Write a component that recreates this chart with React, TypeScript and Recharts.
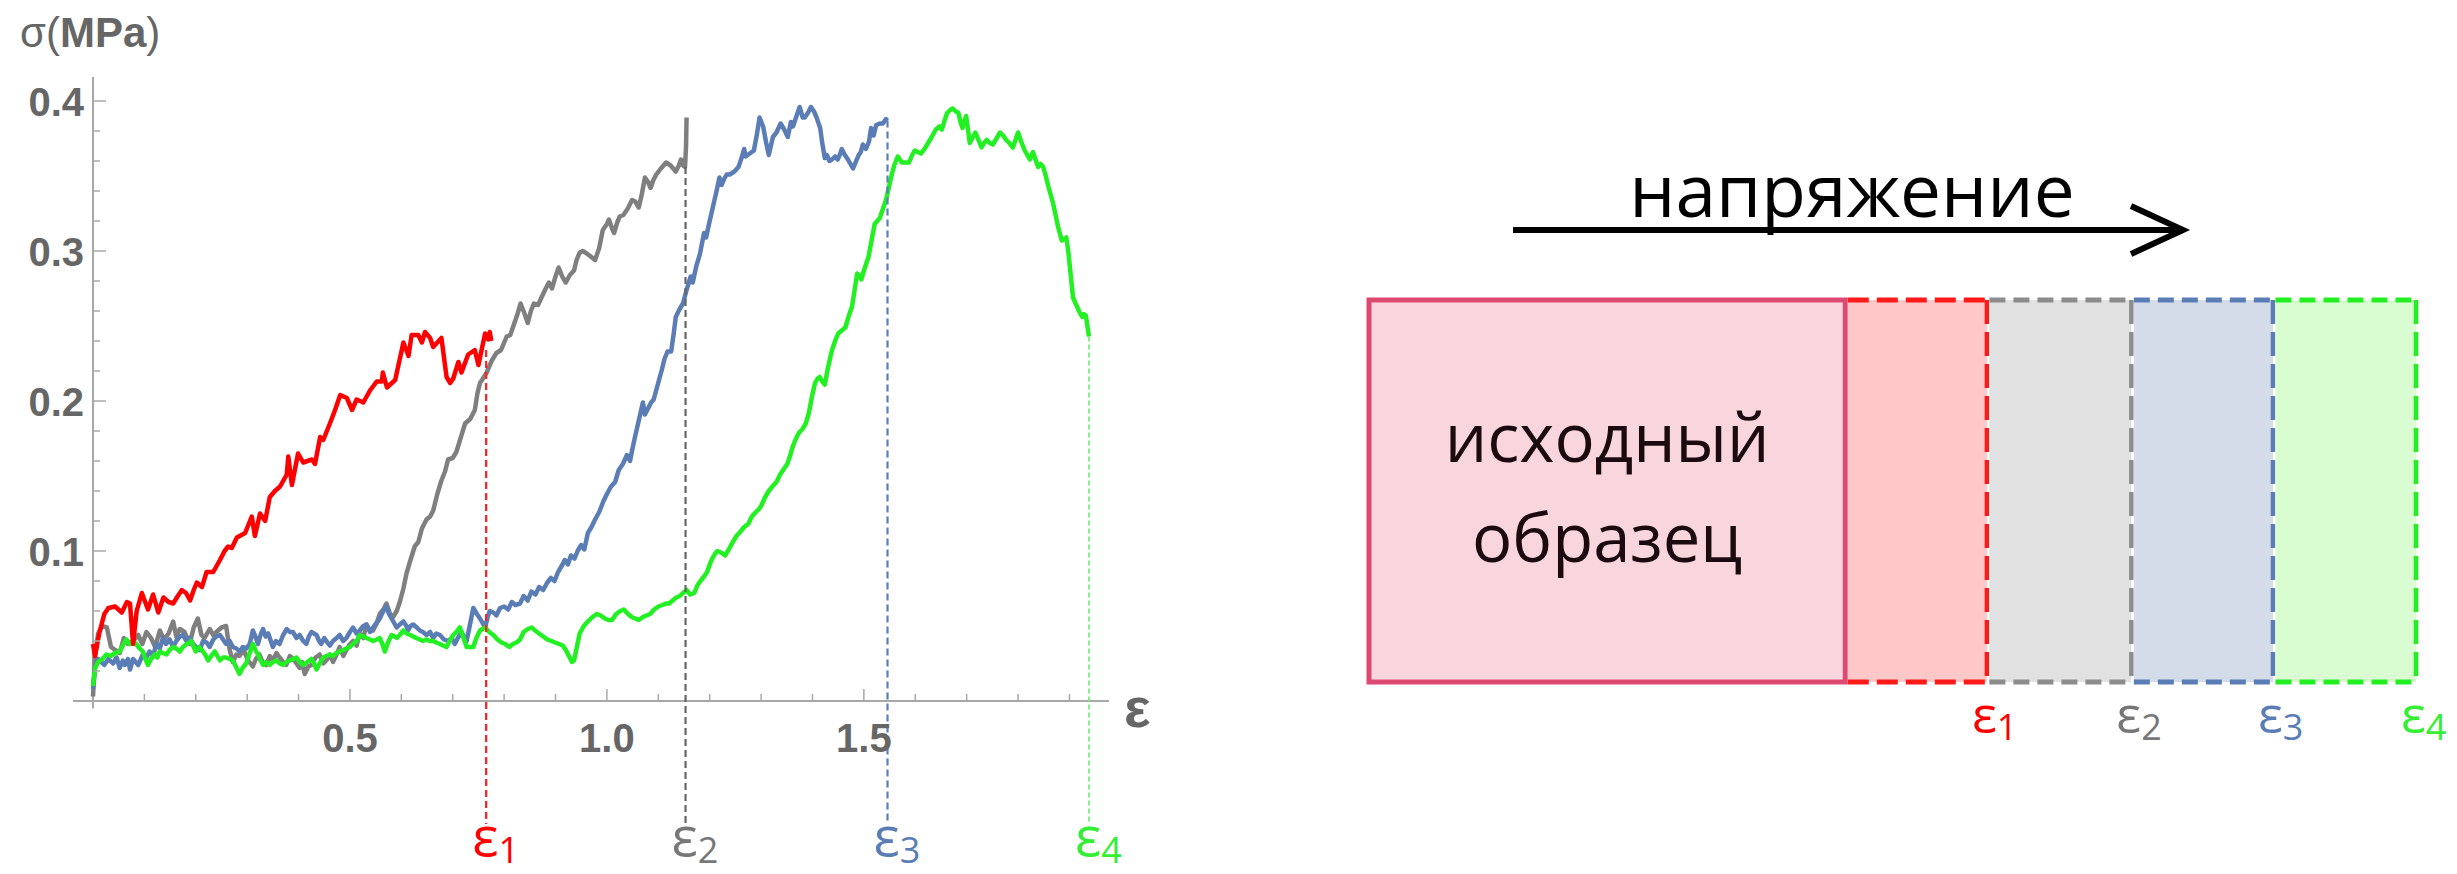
import React from "react";
import {
  Bar,
  BarChart,
  Line,
  LineChart,
  ReferenceDot,
  ReferenceLine,
  XAxis,
  YAxis,
} from "recharts";

// stress–strain curves, [strain, stress MPa]
const RED_CURVE: [number, number][] = [
  [0, 0.038], [0.004, 0.03], [0.012, 0.045], [0.022, 0.058], [0.03, 0.062], [0.043, 0.063], [0.056, 0.059],
  [0.066, 0.066], [0.072, 0.065], [0.078, 0.038], [0.085, 0.06], [0.095, 0.072], [0.107, 0.061], [0.117, 0.071],
  [0.127, 0.059], [0.137, 0.069], [0.147, 0.066], [0.156, 0.065], [0.165, 0.07], [0.173, 0.074], [0.181, 0.072],
  [0.189, 0.067], [0.196, 0.074], [0.202, 0.079], [0.212, 0.076], [0.221, 0.086], [0.234, 0.086], [0.247, 0.094],
  [0.256, 0.1], [0.263, 0.103], [0.27, 0.102], [0.28, 0.109], [0.296, 0.112], [0.309, 0.123], [0.315, 0.11],
  [0.325, 0.125], [0.335, 0.12], [0.344, 0.136], [0.354, 0.14], [0.364, 0.143], [0.377, 0.151], [0.38, 0.163],
  [0.387, 0.144], [0.399, 0.165], [0.409, 0.159], [0.426, 0.161], [0.432, 0.158], [0.442, 0.176], [0.448, 0.174],
  [0.461, 0.185], [0.471, 0.194], [0.481, 0.204], [0.494, 0.202], [0.504, 0.194], [0.513, 0.201], [0.526, 0.199],
  [0.539, 0.207], [0.552, 0.213], [0.562, 0.213], [0.564, 0.219], [0.572, 0.209], [0.588, 0.214], [0.604, 0.239],
  [0.614, 0.23], [0.62, 0.244], [0.633, 0.244], [0.64, 0.239], [0.646, 0.246], [0.656, 0.242], [0.662, 0.236],
  [0.678, 0.242], [0.688, 0.216], [0.695, 0.212], [0.701, 0.215], [0.711, 0.226], [0.717, 0.219], [0.73, 0.231],
  [0.743, 0.234], [0.75, 0.224], [0.763, 0.245], [0.769, 0.241], [0.772, 0.246], [0.775, 0.24],
];

const GRAY_CURVE: [number, number][] = [
  [0, 0.003], [0.004, 0.03], [0.01, 0.045], [0.018, 0.05], [0.027, 0.049], [0.035, 0.036], [0.043, 0.034],
  [0.052, 0.032], [0.06, 0.042], [0.068, 0.038], [0.078, 0.04], [0.088, 0.044], [0.096, 0.038], [0.104, 0.046],
  [0.113, 0.042], [0.121, 0.036], [0.13, 0.047], [0.138, 0.041], [0.147, 0.045], [0.156, 0.053], [0.162, 0.043],
  [0.169, 0.048], [0.178, 0.046], [0.188, 0.038], [0.196, 0.049], [0.204, 0.055], [0.211, 0.044], [0.217, 0.042],
  [0.227, 0.048], [0.234, 0.044], [0.24, 0.046], [0.25, 0.049], [0.259, 0.05], [0.266, 0.034], [0.272, 0.026],
  [0.279, 0.031], [0.285, 0.03], [0.293, 0.034], [0.302, 0.027], [0.311, 0.023], [0.317, 0.028], [0.324, 0.031],
  [0.33, 0.026], [0.337, 0.024], [0.344, 0.03], [0.35, 0.027], [0.357, 0.032], [0.363, 0.029], [0.37, 0.026],
  [0.376, 0.024], [0.383, 0.03], [0.39, 0.028], [0.396, 0.025], [0.402, 0.022], [0.407, 0.026], [0.412, 0.018],
  [0.419, 0.023], [0.425, 0.024], [0.433, 0.029], [0.441, 0.031], [0.448, 0.025], [0.454, 0.027], [0.461, 0.031],
  [0.467, 0.026], [0.474, 0.031], [0.48, 0.036], [0.487, 0.03], [0.493, 0.034], [0.5, 0.038], [0.506, 0.04],
  [0.513, 0.037], [0.519, 0.045], [0.526, 0.042], [0.532, 0.051], [0.539, 0.047], [0.545, 0.047], [0.552, 0.052],
  [0.558, 0.058], [0.565, 0.061], [0.571, 0.065], [0.578, 0.058], [0.584, 0.056], [0.591, 0.06], [0.597, 0.066],
  [0.604, 0.075], [0.61, 0.085], [0.616, 0.092], [0.626, 0.103], [0.633, 0.106], [0.64, 0.115], [0.649, 0.121],
  [0.656, 0.123], [0.662, 0.127], [0.67, 0.138], [0.678, 0.147], [0.685, 0.153], [0.691, 0.161], [0.7, 0.162],
  [0.707, 0.166], [0.716, 0.176], [0.724, 0.185], [0.734, 0.188], [0.743, 0.194], [0.748, 0.205], [0.753, 0.212],
  [0.757, 0.214], [0.766, 0.219], [0.776, 0.227], [0.785, 0.232], [0.794, 0.234], [0.805, 0.243], [0.812, 0.244],
  [0.82, 0.252], [0.826, 0.258], [0.832, 0.265], [0.84, 0.258], [0.846, 0.252], [0.852, 0.26], [0.858, 0.265],
  [0.866, 0.264], [0.874, 0.27], [0.881, 0.275], [0.887, 0.279], [0.893, 0.275], [0.9, 0.283], [0.906, 0.289],
  [0.913, 0.283], [0.92, 0.279], [0.928, 0.284], [0.936, 0.287], [0.941, 0.294], [0.947, 0.299], [0.953, 0.3],
  [0.958, 0.299], [0.966, 0.297], [0.977, 0.294], [0.985, 0.302], [0.992, 0.314], [1.0, 0.318], [1.004, 0.321],
  [1.01, 0.315], [1.014, 0.312], [1.02, 0.319], [1.025, 0.323], [1.032, 0.324], [1.04, 0.328], [1.049, 0.334],
  [1.055, 0.333], [1.062, 0.329], [1.068, 0.338], [1.074, 0.349], [1.08, 0.346], [1.085, 0.342], [1.09, 0.347],
  [1.096, 0.351], [1.105, 0.355], [1.115, 0.359], [1.124, 0.357], [1.134, 0.353], [1.14, 0.357], [1.144, 0.361],
  [1.148, 0.357], [1.152, 0.356], [1.154, 0.37], [1.155, 0.389],
];

const BLUE_CURVE: [number, number][] = [
  [0, 0.008], [0.004, 0.022], [0.01, 0.028], [0.016, 0.026], [0.022, 0.024], [0.03, 0.028], [0.039, 0.025],
  [0.046, 0.029], [0.052, 0.022], [0.058, 0.027], [0.062, 0.024], [0.068, 0.028], [0.072, 0.021], [0.078, 0.028],
  [0.083, 0.026], [0.088, 0.024], [0.097, 0.031], [0.104, 0.029], [0.11, 0.033], [0.117, 0.03], [0.123, 0.038],
  [0.13, 0.035], [0.136, 0.042], [0.142, 0.038], [0.149, 0.041], [0.156, 0.036], [0.162, 0.04], [0.169, 0.043],
  [0.175, 0.044], [0.182, 0.04], [0.188, 0.042], [0.195, 0.038], [0.201, 0.036], [0.208, 0.034], [0.214, 0.04],
  [0.221, 0.039], [0.227, 0.036], [0.234, 0.041], [0.24, 0.043], [0.247, 0.044], [0.253, 0.041], [0.259, 0.038],
  [0.266, 0.04], [0.272, 0.036], [0.279, 0.035], [0.285, 0.033], [0.292, 0.036], [0.298, 0.035], [0.305, 0.038],
  [0.311, 0.047], [0.316, 0.043], [0.321, 0.038], [0.326, 0.044], [0.331, 0.048], [0.336, 0.043], [0.341, 0.045],
  [0.346, 0.04], [0.35, 0.036], [0.356, 0.04], [0.363, 0.038], [0.37, 0.044], [0.377, 0.048], [0.383, 0.046],
  [0.389, 0.046], [0.396, 0.042], [0.402, 0.044], [0.409, 0.04], [0.415, 0.038], [0.42, 0.043], [0.425, 0.046],
  [0.43, 0.045], [0.435, 0.044], [0.44, 0.04], [0.444, 0.038], [0.45, 0.042], [0.456, 0.039], [0.461, 0.037],
  [0.467, 0.04], [0.474, 0.042], [0.48, 0.044], [0.487, 0.04], [0.493, 0.042], [0.5, 0.046], [0.506, 0.049],
  [0.513, 0.045], [0.519, 0.047], [0.526, 0.05], [0.532, 0.051], [0.539, 0.046], [0.545, 0.049], [0.552, 0.052],
  [0.558, 0.055], [0.565, 0.06], [0.571, 0.063], [0.576, 0.058], [0.581, 0.055], [0.586, 0.052], [0.591, 0.049],
  [0.597, 0.051], [0.604, 0.053], [0.61, 0.05], [0.613, 0.047], [0.618, 0.05], [0.623, 0.051], [0.63, 0.049],
  [0.636, 0.047], [0.642, 0.046], [0.649, 0.044], [0.656, 0.046], [0.662, 0.042], [0.668, 0.045], [0.675, 0.044],
  [0.683, 0.041], [0.691, 0.04], [0.698, 0.042], [0.704, 0.038], [0.71, 0.042], [0.717, 0.046], [0.722, 0.043],
  [0.727, 0.04], [0.733, 0.05], [0.74, 0.062], [0.747, 0.058], [0.753, 0.055], [0.758, 0.052], [0.763, 0.049],
  [0.768, 0.056], [0.772, 0.06], [0.779, 0.059], [0.785, 0.057], [0.792, 0.062], [0.8, 0.063], [0.808, 0.061],
  [0.815, 0.066], [0.822, 0.064], [0.831, 0.065], [0.838, 0.07], [0.846, 0.067], [0.853, 0.073], [0.861, 0.071],
  [0.868, 0.076], [0.876, 0.074], [0.884, 0.079], [0.891, 0.082], [0.898, 0.08], [0.905, 0.086], [0.912, 0.09],
  [0.918, 0.094], [0.924, 0.091], [0.93, 0.097], [0.937, 0.095], [0.943, 0.1], [0.95, 0.104], [0.956, 0.101],
  [0.963, 0.112], [0.97, 0.116], [0.977, 0.121], [0.985, 0.126], [0.993, 0.133], [1.0, 0.138], [1.008, 0.143],
  [1.016, 0.146], [1.023, 0.154], [1.031, 0.158], [1.039, 0.164], [1.045, 0.16], [1.049, 0.167], [1.054, 0.175],
  [1.058, 0.181], [1.064, 0.19], [1.07, 0.199], [1.074, 0.191], [1.08, 0.195], [1.086, 0.199], [1.091, 0.201],
  [1.099, 0.211], [1.107, 0.221], [1.112, 0.228], [1.118, 0.233], [1.125, 0.233], [1.13, 0.245], [1.134, 0.256],
  [1.141, 0.261], [1.148, 0.265], [1.155, 0.274], [1.163, 0.283], [1.167, 0.279], [1.174, 0.29], [1.181, 0.298],
  [1.189, 0.312], [1.193, 0.309], [1.2, 0.32], [1.208, 0.332], [1.214, 0.341], [1.219, 0.349], [1.223, 0.344],
  [1.228, 0.348], [1.233, 0.351], [1.239, 0.351], [1.248, 0.353], [1.256, 0.356], [1.262, 0.362], [1.267, 0.368],
  [1.27, 0.363], [1.278, 0.365], [1.286, 0.367], [1.292, 0.378], [1.297, 0.389], [1.304, 0.383], [1.31, 0.372],
  [1.315, 0.364], [1.319, 0.37], [1.323, 0.376], [1.33, 0.379], [1.334, 0.382], [1.338, 0.385], [1.345, 0.381],
  [1.352, 0.376], [1.358, 0.386], [1.362, 0.383], [1.368, 0.389], [1.375, 0.396], [1.381, 0.389], [1.385, 0.389],
  [1.391, 0.392], [1.397, 0.396], [1.403, 0.393], [1.408, 0.389], [1.415, 0.382], [1.419, 0.372], [1.424, 0.362],
  [1.428, 0.364], [1.433, 0.36], [1.438, 0.361], [1.444, 0.363], [1.449, 0.361], [1.453, 0.364], [1.457, 0.368],
  [1.463, 0.364], [1.469, 0.361], [1.474, 0.358], [1.479, 0.355], [1.485, 0.36], [1.49, 0.364], [1.494, 0.366],
  [1.498, 0.371], [1.504, 0.368], [1.51, 0.373], [1.514, 0.382], [1.519, 0.377], [1.524, 0.384], [1.531, 0.385],
  [1.537, 0.385], [1.543, 0.388], [1.546, 0.387],
];

const GREEN_CURVE: [number, number][] = [
  [0, 0.01], [0.004, 0.022], [0.01, 0.026], [0.018, 0.028], [0.026, 0.031], [0.034, 0.03], [0.043, 0.032],
  [0.052, 0.033], [0.058, 0.037], [0.065, 0.041], [0.072, 0.038], [0.078, 0.04], [0.084, 0.038], [0.091, 0.035],
  [0.097, 0.033], [0.102, 0.028], [0.107, 0.024], [0.113, 0.028], [0.12, 0.031], [0.125, 0.029], [0.13, 0.033],
  [0.136, 0.032], [0.143, 0.031], [0.149, 0.034], [0.156, 0.036], [0.162, 0.035], [0.169, 0.033], [0.175, 0.036],
  [0.182, 0.038], [0.188, 0.039], [0.191, 0.04], [0.196, 0.036], [0.2, 0.033], [0.206, 0.036], [0.212, 0.034],
  [0.218, 0.031], [0.224, 0.027], [0.23, 0.03], [0.237, 0.033], [0.242, 0.03], [0.247, 0.027], [0.253, 0.029],
  [0.259, 0.029], [0.266, 0.028], [0.272, 0.027], [0.278, 0.023], [0.285, 0.018], [0.291, 0.022], [0.298, 0.025],
  [0.304, 0.031], [0.311, 0.038], [0.316, 0.034], [0.321, 0.031], [0.326, 0.027], [0.331, 0.024], [0.337, 0.026],
  [0.344, 0.024], [0.35, 0.026], [0.357, 0.027], [0.363, 0.025], [0.37, 0.024], [0.376, 0.026], [0.383, 0.027],
  [0.39, 0.028], [0.396, 0.029], [0.402, 0.026], [0.409, 0.024], [0.417, 0.026], [0.425, 0.028], [0.43, 0.025],
  [0.435, 0.021], [0.441, 0.025], [0.448, 0.029], [0.454, 0.03], [0.461, 0.031], [0.467, 0.03], [0.474, 0.032],
  [0.48, 0.033], [0.487, 0.034], [0.493, 0.035], [0.5, 0.036], [0.506, 0.038], [0.513, 0.04], [0.519, 0.044],
  [0.526, 0.043], [0.532, 0.042], [0.539, 0.041], [0.545, 0.04], [0.552, 0.041], [0.558, 0.042], [0.563, 0.038],
  [0.568, 0.033], [0.574, 0.039], [0.581, 0.044], [0.587, 0.043], [0.591, 0.042], [0.597, 0.044], [0.604, 0.047],
  [0.61, 0.045], [0.617, 0.044], [0.623, 0.043], [0.629, 0.042], [0.636, 0.041], [0.642, 0.04], [0.649, 0.041],
  [0.655, 0.04], [0.662, 0.04], [0.668, 0.039], [0.675, 0.038], [0.681, 0.037], [0.688, 0.036], [0.694, 0.04],
  [0.701, 0.044], [0.707, 0.046], [0.714, 0.049], [0.72, 0.043], [0.727, 0.036], [0.733, 0.036], [0.74, 0.036],
  [0.746, 0.042], [0.753, 0.047], [0.758, 0.048], [0.763, 0.049], [0.771, 0.046], [0.779, 0.044], [0.787, 0.041],
  [0.795, 0.039], [0.802, 0.038], [0.81, 0.036], [0.817, 0.038], [0.824, 0.039], [0.831, 0.041], [0.838, 0.046],
  [0.846, 0.048], [0.854, 0.049], [0.86, 0.047], [0.868, 0.045], [0.876, 0.043], [0.884, 0.041], [0.892, 0.04],
  [0.899, 0.039], [0.907, 0.038], [0.914, 0.037], [0.92, 0.034], [0.926, 0.03], [0.932, 0.026], [0.936, 0.027],
  [0.941, 0.035], [0.947, 0.045], [0.955, 0.05], [0.963, 0.053], [0.972, 0.056], [0.98, 0.058], [0.988, 0.057],
  [0.996, 0.055], [1.003, 0.054], [1.01, 0.054], [1.018, 0.058], [1.026, 0.06], [1.033, 0.061], [1.041, 0.058],
  [1.048, 0.056], [1.055, 0.055], [1.062, 0.054], [1.07, 0.056], [1.077, 0.057], [1.084, 0.058], [1.092, 0.061],
  [1.1, 0.063], [1.108, 0.064], [1.115, 0.065], [1.121, 0.065], [1.128, 0.067], [1.135, 0.069], [1.142, 0.07],
  [1.148, 0.072], [1.155, 0.074], [1.162, 0.071], [1.17, 0.072], [1.176, 0.077], [1.182, 0.08], [1.189, 0.083],
  [1.195, 0.086], [1.2, 0.091], [1.205, 0.095], [1.21, 0.098], [1.215, 0.1], [1.222, 0.099], [1.23, 0.097],
  [1.237, 0.101], [1.245, 0.106], [1.252, 0.11], [1.26, 0.113], [1.267, 0.116], [1.275, 0.118], [1.282, 0.123],
  [1.29, 0.126], [1.296, 0.128], [1.3, 0.13], [1.308, 0.136], [1.315, 0.14], [1.322, 0.143], [1.33, 0.146],
  [1.337, 0.151], [1.345, 0.155], [1.351, 0.158], [1.356, 0.163], [1.362, 0.17], [1.368, 0.175], [1.374, 0.179],
  [1.38, 0.181], [1.387, 0.185], [1.393, 0.192], [1.399, 0.203], [1.405, 0.212], [1.41, 0.215], [1.414, 0.216],
  [1.419, 0.213], [1.424, 0.211], [1.43, 0.222], [1.438, 0.234], [1.444, 0.24], [1.45, 0.245], [1.457, 0.247],
  [1.464, 0.249], [1.47, 0.256], [1.477, 0.263], [1.482, 0.274], [1.487, 0.285], [1.491, 0.284], [1.495, 0.281],
  [1.502, 0.289], [1.509, 0.296], [1.515, 0.307], [1.521, 0.318], [1.526, 0.32], [1.531, 0.322], [1.537, 0.328],
  [1.543, 0.334], [1.549, 0.343], [1.555, 0.352], [1.56, 0.358], [1.566, 0.363], [1.57, 0.361], [1.574, 0.359],
  [1.581, 0.359], [1.588, 0.359], [1.594, 0.364], [1.599, 0.367], [1.605, 0.366], [1.611, 0.365], [1.618, 0.368],
  [1.625, 0.372], [1.632, 0.376], [1.64, 0.381], [1.647, 0.383], [1.652, 0.381], [1.657, 0.387], [1.662, 0.392],
  [1.668, 0.394], [1.673, 0.395], [1.679, 0.393], [1.684, 0.392], [1.688, 0.386], [1.692, 0.382], [1.696, 0.387],
  [1.699, 0.39], [1.703, 0.38], [1.706, 0.372], [1.712, 0.376], [1.717, 0.379], [1.723, 0.374], [1.729, 0.369],
  [1.734, 0.372], [1.739, 0.374], [1.745, 0.372], [1.751, 0.371], [1.758, 0.375], [1.765, 0.379], [1.771, 0.377],
  [1.777, 0.374], [1.783, 0.372], [1.79, 0.369], [1.795, 0.374], [1.8, 0.379], [1.806, 0.373], [1.813, 0.367],
  [1.818, 0.364], [1.823, 0.361], [1.829, 0.366], [1.834, 0.361], [1.839, 0.356], [1.844, 0.358], [1.849, 0.356],
  [1.854, 0.35], [1.859, 0.343], [1.864, 0.337], [1.868, 0.332], [1.873, 0.324], [1.878, 0.316], [1.882, 0.311],
  [1.885, 0.307], [1.89, 0.308], [1.894, 0.309], [1.898, 0.299], [1.901, 0.289], [1.904, 0.279], [1.907, 0.269],
  [1.912, 0.265], [1.916, 0.262], [1.92, 0.259], [1.925, 0.256], [1.928, 0.258], [1.932, 0.257], [1.935, 0.25],
  [1.938, 0.243],
];

// strain where each test stopped, and the stress there
const EPS_STRAIN = [0.765, 1.153, 1.546, 1.938];
const EPS_STRESS = [0.234, 0.356, 0.387, 0.243];
const EPS_INDEX = ["1", "2", "3", "4"];

const X_TICKS = [0.1, 0.2, 0.3, 0.4, 0.5, 0.6, 0.7, 0.8, 0.9, 1.0, 1.1, 1.2, 1.3, 1.4, 1.5, 1.6, 1.7, 1.8, 1.9];
const X_LABELS = ["0.5", "1.0", "1.5"];
const Y_TICKS = [
  0.02, 0.04, 0.06, 0.08, 0.1, 0.12, 0.14, 0.16, 0.18, 0.2,
  0.22, 0.24, 0.26, 0.28, 0.3, 0.32, 0.34, 0.36, 0.38, 0.4,
];
const Y_LABELS = ["0.1", "0.2", "0.3", "0.4"];

// sample schematic: original length, then the extra stretch of each test
const STAGE_KEYS = ["s0", "s1", "s2", "s3", "s4"];
const STAGE_LENGTHS = [3.33, 0.99, 1.01, 0.99, 1.0];
const SAMPLE_LINES = ["исходный", "образец"];
const DIRECTION_LABEL = "напряжение";

const CURVE_COLORS = ["#7f7f7f", "#5b7db6", "#22f022", "#ff0000"];
const EPS_COLORS = ["#ff0000", "#777777", "#5b7db6", "#33ee33"];
const DROP_COLORS = ["#ff2020", "#666666", "#5b7db6", "#66ee66"];
const STAGE_FILLS = ["#f9d6de", "#ffc8c8", "#e1e1e1", "#d4dcea", "#d9fcd1"];
const STAGE_STROKES = ["#dc4a73", "#ff1a1a", "#8c8c8c", "#5b7db6", "#22ee22"];

const AXIS = "#a8a8a8";
const TICK_TEXT = "#666666";
const SANS = "'Liberation Sans', Arial, sans-serif";
const OPEN = "'Open Sans', sans-serif";

const toPoints = (pts: [number, number][]) => pts.map(([x, y]) => ({ x, y }));
const CURVES = [GRAY_CURVE, BLUE_CURVE, GREEN_CURVE, RED_CURVE].map(toPoints);

const sampleRow: Record<string, string | number> = { name: "sample" };
STAGE_KEYS.forEach((k, i) => {
  sampleRow[k] = STAGE_LENGTHS[i];
});
const SAMPLE_DATA = [sampleRow];

function StrainTick({ x, y, payload }: any) {
  const v: number = payload.value;
  const label = X_LABELS.find((l) => Math.abs(parseFloat(l) - v) < 1e-6);
  return (
    <g>
      <line x1={x} x2={x} y1={y} y2={y - (label ? 12 : 7)} stroke={AXIS} strokeWidth={1.5} />
      {label && (
        <text x={x} y={y + 51} textAnchor="middle" fill={TICK_TEXT} fontFamily={SANS} fontWeight="bold" fontSize={40}>
          {label}
        </text>
      )}
    </g>
  );
}

function StressTick({ x, y, payload }: any) {
  const v: number = payload.value;
  const label = Y_LABELS.find((l) => Math.abs(parseFloat(l) - v) < 1e-6);
  return (
    <g>
      <line x1={x} x2={x + (label ? 13 : 7)} y1={y} y2={y} stroke={AXIS} strokeWidth={1.5} />
      {label && (
        <text x={x - 9} y={y + 14.5} textAnchor="end" fill={TICK_TEXT} fontFamily={SANS} fontWeight="bold" fontSize={40}>
          {label}
        </text>
      )}
    </g>
  );
}

function EpsText({ x, y, color, sub, size, subSize, shift }: any) {
  return (
    <text x={x - 14} y={y} fill={color} fontFamily={OPEN} fontSize={size}>
      ε
      <tspan fontSize={subSize} dy={shift}>
        {sub}
      </tspan>
    </text>
  );
}

function StressStrainChart() {
  return (
    <LineChart width={1240} height={874} margin={{ top: 77, right: 131, bottom: 143, left: 33 }}>
      <XAxis
        type="number"
        dataKey="x"
        domain={[0, 1.977]}
        ticks={X_TICKS}
        interval={0}
        height={30}
        tickSize={0}
        tickMargin={0}
        axisLine={false}
        tickLine={false}
        tick={(p: any) => <StrainTick {...p} />}
      />
      <YAxis
        type="number"
        dataKey="y"
        domain={[0, 0.416]}
        ticks={Y_TICKS}
        interval={0}
        width={60}
        tickSize={0}
        tickMargin={0}
        axisLine={false}
        tickLine={false}
        tick={(p: any) => <StressTick {...p} />}
      />
      <ReferenceLine segment={[{ x: -0.039, y: 0 }, { x: 1.977, y: 0 }]} stroke={AXIS} strokeWidth={2} ifOverflow="visible" />
      <ReferenceLine segment={[{ x: 0, y: -0.005 }, { x: 0, y: 0.416 }]} stroke={AXIS} strokeWidth={2} ifOverflow="visible" />

      {CURVES.map((pts, i) => (
        <Line
          key={i}
          data={pts}
          dataKey="y"
          type="linear"
          stroke={CURVE_COLORS[i]}
          strokeWidth={4.5}
          strokeLinejoin="round"
          dot={false}
          activeDot={false}
          isAnimationActive={false}
        />
      ))}

      {EPS_STRAIN.map((e, i) => (
        <ReferenceLine
          key={`drop-${i}`}
          segment={[{ x: e, y: EPS_STRESS[i] }, { x: e, y: -0.082 }]}
          stroke={DROP_COLORS[i]}
          strokeWidth={i === 3 ? 1.6 : 2.2}
          strokeDasharray={i === 3 ? "5 3" : "7 4"}
          ifOverflow="visible"
        />
      ))}
      {EPS_STRAIN.map((e, i) => (
        <ReferenceDot
          key={`eps-${i}`}
          x={e}
          y={-0.103}
          ifOverflow="visible"
          shape={(p: any) => (
            <EpsText x={p.cx} y={p.cy} color={EPS_COLORS[i]} sub={EPS_INDEX[i]} size={55} subSize={36} shift={7} />
          )}
        />
      ))}

      <ReferenceDot
        x={-0.142}
        y={0.436}
        ifOverflow="visible"
        shape={(p: any) => (
          <text x={p.cx} y={p.cy} fill={TICK_TEXT} fontFamily={SANS} fontSize={42}>
            σ(<tspan fontWeight="bold">MPa</tspan>)
          </text>
        )}
      />
      <ReferenceDot
        x={2.006}
        y={-0.017}
        ifOverflow="visible"
        shape={(p: any) => (
          <text x={p.cx} y={p.cy} fill={TICK_TEXT} fontFamily={SANS} fontWeight="bold" fontSize={56}>
            ε
          </text>
        )}
      />
    </LineChart>
  );
}

// one segment of the sample bar; the first one also carries the caption and load arrow
function StageBox({ x, y, width, height, stage }: any) {
  const color = STAGE_STROKES[stage];
  if (stage === 0) {
    const cx = x + width / 2;
    const ay = y - 70;
    return (
      <g>
        <rect x={x} y={y} width={width} height={height} fill={STAGE_FILLS[0]} stroke={color} strokeWidth={5} />
        <text x={cx} y={y + 162} textAnchor="middle" fill="#1b0b10" fontFamily={OPEN} fontSize={67}>
          {SAMPLE_LINES[0]}
        </text>
        <text x={cx} y={y + 262} textAnchor="middle" fill="#1b0b10" fontFamily={OPEN} fontSize={67}>
          {SAMPLE_LINES[1]}
        </text>
        <text x={x + 483} y={y - 83} textAnchor="middle" fill="#000" fontFamily={OPEN} fontSize={73}>
          {DIRECTION_LABEL}
        </text>
        <line x1={x + 144} x2={x + 810} y1={ay} y2={ay} stroke="#000" strokeWidth={6} />
        <polyline
          points={`${x + 762},${ay - 24} ${x + 814},${ay} ${x + 762},${ay + 24}`}
          fill="none"
          stroke="#000"
          strokeWidth={6}
        />
      </g>
    );
  }
  const dash = stage === 1 ? "21 8" : "16 8";
  const right = x + width;
  // fill starts past the previous segment's border so that border stays whole
  return (
    <g>
      <rect x={x + 2.5} y={y} width={width - 2.5} height={height} fill={STAGE_FILLS[stage]} />
      <line x1={x + 2.5} x2={right} y1={y} y2={y} stroke={color} strokeWidth={5} strokeDasharray={dash} />
      <line x1={x + 2.5} x2={right} y1={y + height} y2={y + height} stroke={color} strokeWidth={5} strokeDasharray={dash} />
      <line x1={right} x2={right} y1={y} y2={y + height} stroke={color} strokeWidth={4.5} strokeDasharray="24 8" />
      <EpsText x={right - 1} y={y + height + 51} color={EPS_COLORS[stage - 1]} sub={EPS_INDEX[stage - 1]} size={52} subSize={36} shift={7} />
    </g>
  );
}

function SampleDiagram() {
  return (
    <BarChart
      width={1157}
      height={874}
      layout="vertical"
      data={SAMPLE_DATA}
      barCategoryGap={0}
      margin={{ top: 300, right: 41, bottom: 192, left: 69 }}
    >
      <XAxis type="number" domain={[0, 7.32]} hide />
      <YAxis type="category" dataKey="name" hide />
      {STAGE_KEYS.map((k, i) => (
        <Bar
          key={k}
          dataKey={k}
          stackId="sample"
          isAnimationActive={false}
          shape={(p: any) => <StageBox {...p} stage={i} />}
        />
      ))}
    </BarChart>
  );
}

export default function App() {
  return (
    <div style={{ position: "absolute", left: 0, top: 0, width: 2457, height: 874, background: "#fff", overflow: "hidden" }}>
      <div style={{ position: "absolute", left: 0, top: 0 }}>
        <StressStrainChart />
      </div>
      <div style={{ position: "absolute", left: 1300, top: 0 }}>
        <SampleDiagram />
      </div>
    </div>
  );
}
